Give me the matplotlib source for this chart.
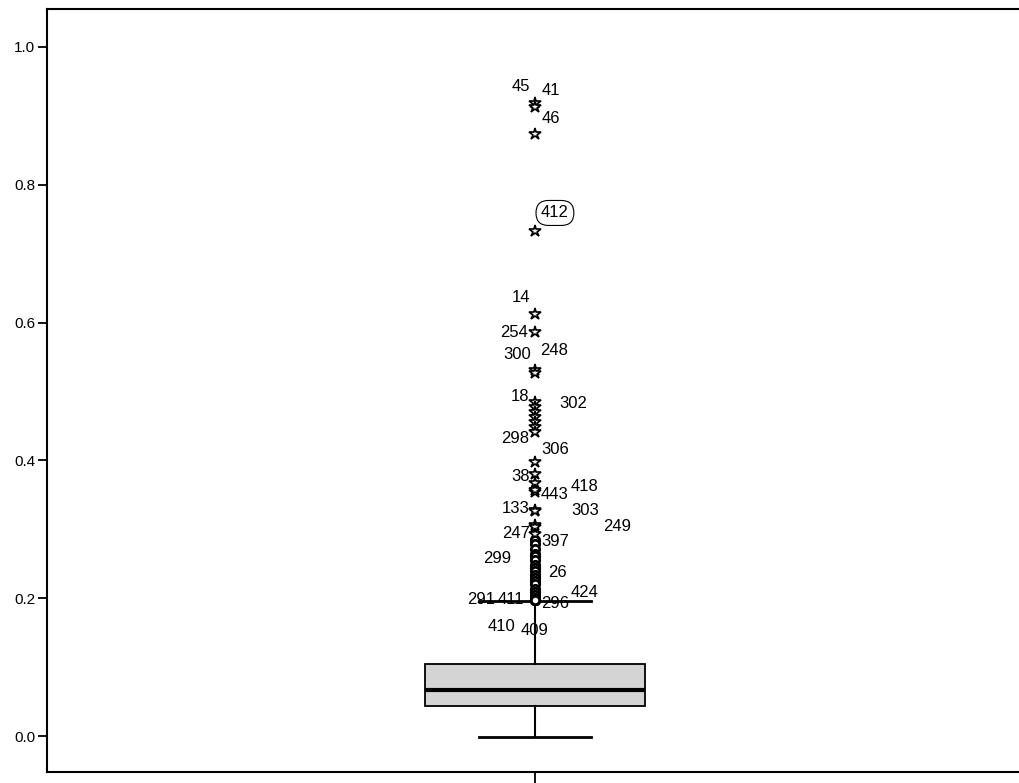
import matplotlib
matplotlib.use('Agg')
import matplotlib.pyplot as plt

plt.rcParams['font.family'] = ['Liberation Sans', 'DejaVu Sans']

# box summary
q1 = 0.0435
median = 0.0665
q3 = 0.1045
whisker_low = -0.001
whisker_high = 0.196

# extreme values (stars), '' = no label shown
star_ids = ['45', '41', '46', '412', '14', '254', '300', '248', '18', '302',
            '', '', '', '', '298', '306', '38', '', '443', '418', '133', '303',
            '247', '249', '']
star_vals = [0.918, 0.913, 0.873, 0.733, 0.612, 0.586, 0.531, 0.527, 0.485, 0.478,
             0.470, 0.463, 0.456, 0.448, 0.441, 0.398, 0.381, 0.368, 0.355, 0.357,
             0.328, 0.326, 0.306, 0.304, 0.293]

# outliers (circles)
circle_ids = ['397', '', '', '', '299', '', '', '', '', '26', '', '', '', '424',
              '', '', '', '291', '411', '296', '410', '409']
circle_vals = [0.285, 0.279, 0.272, 0.265, 0.261, 0.255, 0.249, 0.244, 0.239, 0.234,
               0.229, 0.225, 0.221, 0.213, 0.209, 0.205, 0.201, 0.198, 0.198, 0.198,
               0.198, 0.198]

# label placement: offset in pixels from the point, horizontal alignment
label_pos = {
    '45': (-5, 17, 'right'), '41': (7, 16, 'left'), '46': (7, 16, 'left'),
    '412': (20, 18, 'center'), '14': (-5, 17, 'right'), '254': (-7, 0, 'right'),
    '300': (-4, 16, 'right'), '248': (5, 22, 'left'), '18': (-6, 5, 'right'),
    '302': (24, 3, 'left'), '298': (-6, -6, 'right'), '306': (6, 12, 'left'),
    '38': (-5, -3, 'right'), '443': (6, -3, 'left'), '418': (36, 4, 'left'),
    '133': (-5, 2, 'right'), '303': (36, 1, 'left'), '247': (-5, -8, 'right'),
    '249': (68, 0, 'left'), '397': (6, -2, 'left'), '299': (-24, -2, 'right'),
    '26': (13, 2, 'left'), '424': (36, -3, 'left'), '291': (-40, 0, 'right'),
    '411': (-11, 0, 'right'), '296': (6, -4, 'left'), '410': (-20, -27, 'right'),
    '409': (0, -31, 'center'),
}

fig = plt.figure(figsize=(10.19, 7.83), dpi=100)
ax = fig.add_axes([0.0461, 0.014, 0.9539, 0.9745])

stats = [dict(q1=q1, med=median, q3=q3, whislo=whisker_low, whishi=whisker_high, fliers=[])]
ax.bxp(stats, positions=[1], widths=0.453, patch_artist=True, capwidths=0.23,
       boxprops=dict(facecolor='#d4d4d4', edgecolor='black', linewidth=1.3),
       medianprops=dict(color='black', linewidth=3),
       whiskerprops=dict(color='black', linewidth=1.5),
       capprops=dict(color='black', linewidth=2))

ax.plot([1] * len(circle_vals), circle_vals, linestyle='none', marker='o',
        markersize=6, markerfacecolor='white', markeredgecolor='black',
        markeredgewidth=2.0, zorder=3)
ax.plot([1] * len(star_vals), star_vals, linestyle='none', marker='*',
        markersize=9, markerfacecolor='#f0f0f0', markeredgecolor='black',
        markeredgewidth=1.2, zorder=4)

for ids, vals in ((star_ids, star_vals), (circle_ids, circle_vals)):
    for lab, v in zip(ids, vals):
        if not lab:
            continue
        dx, dy, ha = label_pos[lab]
        bbox = None
        if lab == '412':
            bbox = dict(boxstyle='round,pad=0.3,rounding_size=0.75', fc='white', ec='black', lw=0.8)
        ax.annotate(lab, xy=(1, v), xytext=(dx, dy), textcoords='offset pixels',
                    ha=ha, va='center', fontsize=12, bbox=bbox, zorder=5)

ax.set_xlim(-0.004, 1.996)
ax.set_ylim(-0.052, 1.055)
ax.set_yticks([0.0, 0.2, 0.4, 0.6, 0.8, 1.0])
ax.set_yticklabels(['0.0', '0.2', '0.4', '0.6', '0.8', '1.0'])
ax.set_xticks([1])
ax.set_xticklabels([''])
ax.tick_params(axis='y', length=6.5, width=1.3, labelsize=11, pad=2)
ax.tick_params(axis='x', length=8, width=1.3)
ax.spines['right'].set_visible(False)
for s in ('left', 'top', 'bottom'):
    ax.spines[s].set_linewidth(1.5)

fig.savefig('out.png', dpi=100)
